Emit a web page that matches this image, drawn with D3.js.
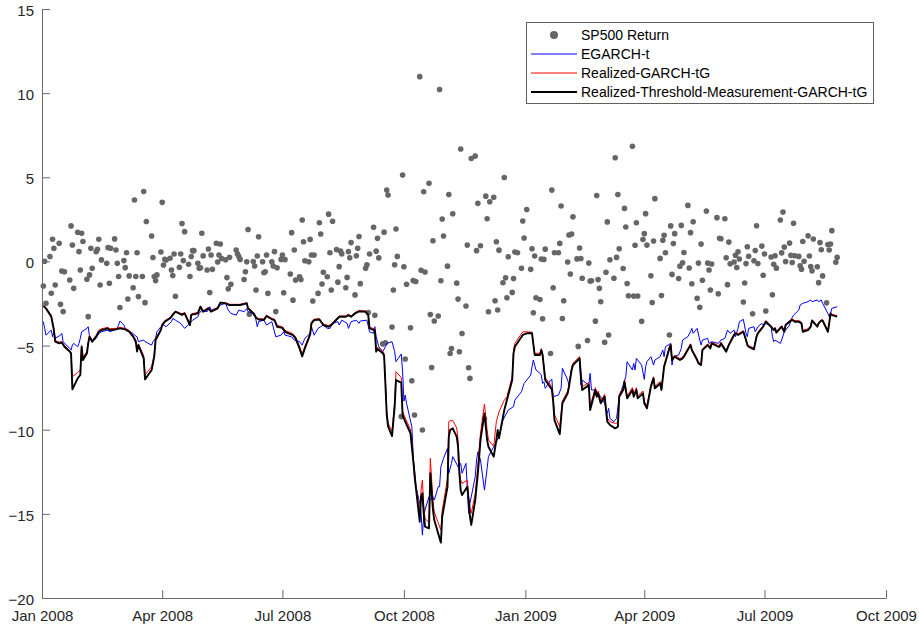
<!DOCTYPE html>
<html>
<head>
<meta charset="utf-8">
<script src="https://cdn.jsdelivr.net/npm/d3@7"></script>
<style>
  body { margin: 0; background: #fff; }
  svg { display: block; font-family: 'Liberation Sans', Arial, Helvetica, sans-serif; }
</style>
</head>
<body>
<svg id="chart" width="919" height="628"></svg>
<script>
'use strict'

// trading calendar (NYSE days between these dates, minus holidays)
const startDay = '2008-01-02'
const endDay = '2009-08-25'
const holidays = ['2008-01-21', '2008-02-18', '2008-03-21', '2008-05-26', '2008-07-04', '2008-09-01',
  '2008-11-27', '2008-12-25', '2009-01-01', '2009-01-19', '2009-02-16', '2009-04-10', '2009-05-25', '2009-07-03']

// daily SP500 log returns in %, one per trading day
const spReturns = [
  // 2008 Jan
  -1.46, 0.01, -2.49, 0.29, -1.89, 1.32, 0.78, -1.40, 1.08, -2.55, -0.57, -2.98, -0.61, -1.10, 2.11, 0.98, -1.60, 1.73, 0.58, -0.51, 1.67,
  // Feb
  1.18, -1.06, -3.28, -0.80, 0.78, -0.41, 0.58, 0.72, 1.32, -1.40, 0.09, -0.11, 0.82, -1.30, 0.78, 1.34, 0.68, -0.11, -0.90, -2.74,
  // Mar
  0.05, -0.37, 0.52, -2.23, -0.86, -1.56, 3.65, -0.90, 0.52, -2.09, -0.90, 4.15, -2.45, 2.37, 1.51, 0.23, -0.90, -1.14, -0.80, 0.56,
  // Apr
  3.51, -0.21, 0.13, 0.09, 0.19, -0.51, -0.84, 0.44, -2.07, -0.35, 0.44, 2.25, 0.05, 1.77, -0.17, -0.90, 0.29, 0.64, 0.64, -0.11, -0.41, -0.38,
  // May
  1.67, 0.33, -0.51, 0.74, -1.85, 0.38, -0.47, 1.08, -0.04, 0.38, 1.04, 0.17, 0.10, -0.96, -1.63, 0.25, -1.36, 0.68, 0.45, 0.29, 0.12,
  // Jun
  -1.07, -0.61, -0.02, 1.90, -3.14, 0.00, -0.27, -1.70, 0.32, 1.47, -0.02, -0.67, -0.61, 0.38, -1.90, -0.02, -0.27, 0.58, -2.98, -0.38, 0.12,
  // Jul
  0.38, -1.86, 0.11, -0.75, 1.71, -2.30, 0.68, -1.11, -0.91, -1.07, 2.46, 1.17, 0.04, -0.02, 1.31, 0.38, -2.35, 0.38, -1.90, 2.30, 1.63, -1.34,
  // Aug
  -0.64, -0.91, 2.81, 0.52, -1.70, 2.39, 0.70, -1.23, -0.31, 0.61, 0.45, -1.56, -0.95, 0.58, 0.22, 1.12, -1.99, 0.34, 0.78, 1.48, -1.32,
  // Sep
  -0.41, -0.20, -3.04, 0.44, 2.03, -3.20, 0.61, 1.37, 0.21, -4.90, 1.74, -4.83, 4.24, 3.95, -3.90, -1.70, -0.20, 1.93, 0.30, -9.22, 5.13,
  // Oct
  -0.32, -5.80, -1.36, -3.94, -7.09, -1.14, -9.13, -1.19, 10.98, -0.53, -10.02, 4.14, -0.63, 4.64, -3.15, -6.30, 1.23, -3.54, -3.25, 10.22, -1.15, 2.52, 1.51,
  // Nov
  -0.28, 3.98, -5.47, -5.17, 2.83, -1.29, -2.24, -5.37, 6.68, -4.28, -2.65, 0.97, -6.32, -6.95, 6.12, 6.26, 0.64, 3.45, 0.93,
  // Dec
  -9.35, 3.88, 2.54, -2.99, 3.55, 3.81, -2.34, 1.17, -2.89, 0.67, -1.27, 4.99, -0.97, -2.16, 0.28, -1.84, -1.01, 0.56, 0.52, -0.41, 2.40, 1.39,
  // 2009 Jan
  3.09, -0.47, 0.75, -3.05, 0.32, -2.16, -2.26, 0.14, -3.41, 0.12, 0.73, -5.47, 4.24, -1.56, 0.52, 0.52, 1.07, 3.29, -3.39, -2.34,
  // Feb
  -0.03, 1.57, -0.75, 1.63, 2.65, 0.15, -5.05, 0.80, 0.17, -1.00, -4.70, -0.10, -1.17, -1.15, -3.55, 3.92, -1.08, -1.60, -2.40,
  // Mar
  -4.80, -0.64, 2.35, -4.37, 0.10, -1.00, 6.16, 0.24, 3.98, 0.75, -0.42, 3.15, 2.05, -1.31, -2.04, 6.84, -2.06, 0.96, 2.30, -2.05, -3.56, 1.30,
  // Apr
  1.65, 2.84, 0.97, -0.85, -2.44, 1.21, 3.73, 0.18, -2.03, 1.26, 1.55, 0.52, -4.37, 2.11, -0.77, 1.06, 1.65, -1.02, -0.28, 2.14, -0.08,
  // May
  0.53, 3.33, -0.39, 1.71, -1.33, 2.36, -2.19, -0.10, -2.73, 1.03, -1.12, 2.99, -0.10, -0.51, -1.70, -0.15, 2.60, -1.92, 1.38, 1.35,
  // Jun
  2.54, 0.22, -1.38, 1.15, -0.14, -0.03, 0.37, -0.36, 0.57, 0.14, -2.41, -1.28, -0.13, 0.87, 0.31, -3.11, 0.04, 0.65, 2.12, -0.12, 0.91, -0.82,
  // Jul
  0.44, -2.95, 0.26, -1.98, -0.17, 0.34, -0.40, 2.46, 0.51, 2.93, 0.85, -0.01, 1.09, 0.36, -0.06, 2.27, 0.34, 0.30, -0.26, -0.46, 1.18, 0.01,
  // Aug
  1.52, 0.32, -0.30, -0.56, 1.33, -0.32, -1.26, 1.12, 0.69, -0.86, -2.46, 1.01, 0.68, 1.04, 1.83, -0.05, 0.24
]

// VaR forecasts: [trading day number, value]
const egarchT = [[0,-3.58],[1,-3.98],[2,-4.38],[4,-4.08],[5,-4.48],[6,-4.18],[7,-4.57],[9,-4.38],[10,-4.28],[11,-4.77],[13,-5.17],[14,-5.27],[15,-4.97],[16,-4.87],[17,-5.07],[18,-4.87],[19,-4.57],[20,-4.18],[22,-3.98],[23,-3.88],[24,-4.48],[26,-4.77],[27,-4.57],[29,-4.28],[31,-4.18],[33,-4.08],[34,-4.18],[36,-4.08],[38,-3.98],[40,-3.54],[41,-3.78],[42,-3.98],[44,-4.08],[46,-4.28],[47,-4.38],[49,-4.48],[50,-4.77],[52,-4.67],[53,-4.77],[55,-4.97],[56,-4.77],[58,-4.57],[59,-4.18],[60,-3.88],[62,-3.78],[64,-3.88],[66,-3.58],[67,-3.39],[69,-3.49],[71,-3.68],[73,-3.88],[74,-3.98],[76,-3.68],[78,-3.49],[80,-3.29],[81,-3.09],[83,-2.89],[85,-2.99],[87,-2.69],[88,-2.89],[90,-2.79],[92,-2.69],[93,-2.59],[95,-2.49],[97,-2.89],[99,-3.09],[100,-3.19],[102,-2.89],[104,-2.99],[106,-2.8],[107,-2.99],[110,-3.09],[112,-3.88],[113,-3.58],[115,-3.49],[117,-3.78],[119,-3.58],[120,-3.88],[122,-4.48],[124,-4.38],[126,-4.18],[127,-4.38],[129,-4.48],[131,-4.67],[133,-4.77],[135,-4.97],[137,-4.57],[139,-4.28],[140,-3.88],[142,-4.38],[143,-3.98],[145,-3.88],[147,-3.78],[148,-3.98],[150,-3.98],[152,-3.68],[154,-3.58],[155,-3.78],[157,-3.49],[159,-3.68],[160,-3.98],[162,-3.58],[164,-3.49],[166,-3.68],[167,-3.54],[169,-3.49],[171,-4.18],[172,-4.27],[173,-3.88],[174,-4.47],[176,-5.07],[177,-5.36],[179,-5.07],[180,-4.87],[182,-4.77],[184,-5.36],[185,-5.96],[187,-5.5],[188,-6.5],[189,-8.3],[190,-7.94],[191,-8.43],[193,-9.82],[194,-11.4],[195,-12.99],[197,-14.38],[198,-14.97],[199,-16.26],[200,-15.17],[201,-14.77],[202,-13.98],[203,-14.18],[205,-13.98],[206,-14.18],[207,-13.39],[208,-13.39],[209,-12.2],[211,-11.7],[212,-11.11],[213,-12.59],[215,-12.0],[216,-11.6],[218,-12.2],[220,-12.0],[221,-12.59],[222,-12.0],[224,-14.97],[225,-14.38],[227,-12.79],[228,-11.8],[229,-11.31],[230,-11.8],[231,-13.59],[233,-12.3],[234,-11.6],[236,-11.01],[238,-10.71],[240,-10.42],[241,-9.42],[243,-9.13],[245,-8.83],[247,-8.63],[248,-8.24],[250,-7.74],[252,-7.25],[254,-6.75],[255,-6.26],[256,-5.86],[258,-6.45],[259,-6.65],[260,-6.75],[261,-7.25],[262,-7.15],[263,-7.54],[264,-7.05],[265,-7.0],[266,-8.04],[268,-7.94],[270,-7.54],[271,-6.35],[273,-7.05],[274,-7.35],[276,-6.35],[277,-6.16],[279,-5.86],[280,-5.96],[281,-7.35],[282,-7.05],[284,-7.35],[285,-6.65],[286,-7.64],[287,-7.64],[289,-7.84],[291,-8.04],[292,-8.43],[294,-9.03],[295,-8.73],[296,-9.33],[297,-9.52],[299,-9.33],[301,-8.04],[302,-7.35],[304,-6.85],[305,-5.96],[307,-6.45],[308,-6.06],[309,-6.45],[310,-5.76],[312,-6.16],[314,-7.01],[315,-6.26],[316,-5.96],[317,-5.66],[319,-6.16],[320,-5.86],[321,-5.66],[323,-5.27],[324,-5.66],[325,-5.07],[327,-4.87],[328,-6.16],[329,-5.66],[331,-5.56],[333,-5.17],[334,-4.67],[336,-4.47],[338,-4.18],[339,-3.98],[340,-4.27],[341,-3.98],[343,-4.67],[344,-4.97],[345,-4.67],[347,-4.57],[348,-4.87],[350,-4.77],[352,-4.87],[354,-4.67],[355,-4.57],[357,-4.08],[359,-4.27],[360,-4.08],[361,-4.47],[363,-3.98],[364,-3.58],[365,-3.44],[367,-4.27],[368,-4.47],[369,-3.98],[371,-3.88],[372,-4.18],[374,-3.88],[375,-3.68],[376,-3.78],[378,-3.68],[379,-3.88],[380,-4.47],[381,-4.77],[382,-4.67],[384,-4.87],[385,-4.67],[387,-4.18],[389,-3.78],[390,-3.48],[392,-3.19],[394,-2.89],[395,-2.59],[397,-2.49],[399,-2.39],[401,-2.29],[402,-2.39],[404,-2.29],[405,-2.39],[407,-2.29],[408,-2.49],[410,-3.09],[411,-3.28],[412,-3.09],[413,-2.79],[415,-2.69]]

const realizedGarchTG = [[0,-2.6],[2,-2.75],[4,-3.2],[6,-4.0],[7,-4.7],[8,-4.8],[10,-4.75],[12,-5.0],[13,-5.3],[14,-5.4],[15,-6.85],[17,-6.6],[19,-6.45],[20,-5.0],[21,-5.7],[22,-5.35],[23,-4.8],[24,-4.4],[26,-4.7],[27,-4.4],[29,-4.1],[31,-4.0],[33,-3.92],[34,-4.0],[37,-3.98],[40,-3.92],[42,-3.98],[45,-4.1],[46,-4.4],[48,-4.65],[49,-5.2],[50,-4.9],[52,-5.6],[53,-6.75],[55,-6.25],[57,-5.5],[58,-4.6],[60,-4.0],[61,-3.72],[63,-3.52],[65,-3.32],[67,-3.12],[69,-2.95],[72,-3.12],[74,-3.03],[76,-3.7],[77,-3.12],[80,-3.03],[82,-2.65],[84,-2.93],[86,-2.74],[88,-2.93],[91,-2.74],[93,-2.42],[95,-2.45],[98,-2.55],[100,-2.55],[103,-2.55],[106,-2.45],[107,-2.74],[109,-3.03],[111,-3.3],[113,-3.4],[115,-3.42],[117,-3.2],[119,-3.38],[121,-3.43],[123,-3.8],[125,-3.88],[127,-4.1],[130,-4.3],[132,-4.48],[133,-5.05],[135,-5.5],[137,-5.05],[139,-4.28],[140,-3.62],[142,-3.43],[144,-3.4],[147,-3.72],[149,-3.82],[151,-3.72],[153,-3.4],[155,-3.24],[158,-3.24],[160,-3.14],[162,-3.24],[163,-3.04],[166,-2.92],[168,-2.94],[170,-3.15],[171,-3.9],[173,-4.02],[174,-5.25],[175,-5.1],[177,-5.35],[178,-5.45],[179,-7.1],[180,-8.9],[181,-9.6],[182,-10.1],[184,-8.4],[185,-6.55],[187,-6.9],[188,-8.9],[190,-9.3],[192,-10.0],[194,-11.6],[196,-13.2],[197,-14.97],[198,-13.6],[199,-12.99],[200,-14.5],[201,-15.3],[202,-15.5],[203,-11.7],[205,-14.2],[206,-14.9],[209,-15.96],[210,-14.8],[212,-12.9],[213,-9.52],[214,-9.46],[216,-9.46],[217,-9.9],[218,-10.6],[219,-12.4],[220,-13.0],[221,-13.19],[223,-13.0],[224,-13.98],[225,-14.6],[226,-14.97],[227,-13.8],[229,-12.1],[230,-10.2],[231,-8.47],[233,-10.02],[234,-10.61],[236,-11.0],[238,-9.52],[239,-9.23],[240,-8.93],[242,-8.24],[244,-8.04],[246,-6.85],[247,-5.27],[248,-4.87],[251,-4.18],[253,-4.18],[255,-4.21],[257,-5.46],[259,-5.46],[260,-5.18],[261,-5.46],[263,-6.9],[265,-7.45],[266,-8.1],[267,-9.1],[269,-9.82],[271,-8.3],[273,-7.7],[274,-7.3],[276,-6.3],[277,-6.05],[280,-5.66],[281,-6.6],[282,-7.45],[284,-7.2],[285,-8.6],[287,-7.5],[288,-7.9],[289,-7.7],[291,-8.3],[292,-7.9],[293,-8.65],[294,-9.3],[296,-9.52],[298,-9.62],[300,-9.6],[301,-7.9],[302,-7.5],[303,-7.02],[305,-8.0],[307,-7.5],[308,-7.9],[310,-7.5],[311,-8.0],[313,-7.7],[314,-8.3],[316,-8.6],[317,-7.32],[319,-6.85],[320,-7.42],[321,-7.14],[322,-7.52],[324,-6.15],[326,-5.08],[327,-4.9],[328,-5.78],[330,-5.58],[332,-5.78],[334,-5.68],[335,-5.58],[338,-4.9],[339,-5.2],[341,-5.78],[342,-5.98],[344,-6.08],[345,-5.2],[347,-4.9],[348,-5.0],[349,-5.1],[350,-4.8],[352,-5.0],[353,-5.0],[354,-4.8],[356,-5.28],[358,-4.9],[360,-4.3],[361,-4.2],[363,-4.3],[365,-4.12],[367,-4.6],[368,-4.9],[369,-5.0],[371,-5.15],[373,-4.4],[374,-4.2],[376,-3.82],[378,-3.52],[379,-3.82],[381,-4.02],[382,-3.92],[383,-4.17],[385,-3.82],[387,-4.12],[388,-3.72],[389,-3.52],[391,-3.42],[393,-3.52],[394,-3.52],[396,-3.62],[397,-4.1],[399,-4.0],[401,-3.82],[402,-3.46],[404,-3.82],[405,-3.62],[407,-3.46],[408,-3.46],[410,-4.1],[411,-3.62],[412,-3.04],[413,-3.14],[415,-3.22]]

const rtmGarchTG = [[0,-2.65],[2,-2.79],[4,-3.28],[6,-4.08],[7,-4.77],[8,-4.87],[10,-4.82],[12,-5.07],[13,-5.36],[14,-5.46],[15,-7.6],[17,-6.95],[19,-6.75],[20,-5.07],[21,-5.86],[22,-5.46],[23,-4.87],[24,-4.47],[26,-4.77],[27,-4.47],[29,-4.18],[31,-4.08],[33,-3.98],[34,-4.08],[37,-4.04],[40,-3.98],[42,-4.04],[45,-4.18],[46,-4.47],[48,-4.77],[49,-5.36],[50,-4.97],[52,-5.76],[53,-7.01],[55,-6.45],[57,-5.66],[58,-4.67],[60,-4.08],[61,-3.78],[63,-3.58],[65,-3.38],[67,-3.18],[69,-2.99],[72,-3.18],[74,-3.09],[76,-3.78],[77,-3.18],[80,-3.09],[82,-2.69],[84,-2.99],[86,-2.79],[88,-2.99],[91,-2.79],[93,-2.45],[95,-2.49],[98,-2.59],[100,-2.59],[103,-2.59],[106,-2.49],[107,-2.79],[109,-3.09],[111,-3.35],[113,-3.45],[115,-3.48],[117,-3.24],[119,-3.44],[121,-3.49],[123,-3.88],[125,-3.95],[127,-4.18],[130,-4.38],[132,-4.57],[133,-5.17],[135,-5.64],[137,-5.17],[139,-4.35],[140,-3.68],[142,-3.49],[144,-3.45],[147,-3.78],[149,-3.88],[151,-3.78],[153,-3.45],[155,-3.29],[158,-3.29],[160,-3.19],[162,-3.29],[163,-3.09],[166,-2.97],[168,-2.99],[170,-3.2],[171,-3.98],[173,-4.1],[174,-5.36],[175,-5.2],[177,-5.46],[178,-5.6],[179,-7.3],[180,-9.1],[181,-9.8],[182,-10.38],[184,-8.63],[185,-7.05],[187,-7.2],[188,-9.13],[190,-9.52],[192,-10.22],[194,-11.8],[196,-13.39],[197,-15.47],[198,-13.98],[199,-13.78],[200,-14.97],[201,-15.76],[202,-15.86],[203,-12.59],[205,-14.77],[206,-15.37],[209,-16.71],[210,-15.17],[212,-13.39],[213,-10.42],[214,-10.02],[216,-9.92],[217,-10.42],[218,-11.01],[219,-12.59],[220,-13.59],[221,-13.88],[223,-13.39],[224,-14.18],[225,-15.17],[226,-15.66],[227,-14.18],[229,-12.59],[230,-10.61],[231,-9.03],[233,-10.61],[234,-11.01],[236,-11.6],[238,-10.61],[239,-10.02],[240,-10.51],[242,-8.83],[244,-8.24],[246,-7.05],[247,-5.46],[248,-5.07],[251,-4.37],[253,-4.27],[255,-4.27],[257,-5.56],[259,-5.56],[260,-5.27],[261,-5.56],[263,-7.05],[265,-7.6],[266,-8.3],[267,-9.43],[269,-10.26],[271,-8.43],[273,-7.84],[274,-7.44],[276,-6.45],[277,-6.16],[280,-5.76],[281,-6.8],[282,-7.64],[284,-7.35],[285,-8.83],[287,-7.64],[288,-8.04],[289,-7.84],[291,-8.43],[292,-8.04],[293,-8.83],[294,-9.52],[296,-9.72],[298,-9.92],[300,-9.82],[301,-8.04],[302,-7.64],[303,-7.15],[305,-8.14],[307,-7.64],[308,-8.04],[310,-7.64],[311,-8.14],[313,-7.84],[314,-8.43],[316,-8.73],[317,-7.44],[319,-6.95],[320,-7.54],[321,-7.25],[322,-7.64],[324,-6.26],[326,-5.17],[327,-4.97],[328,-5.86],[330,-5.66],[332,-5.86],[334,-5.76],[335,-5.66],[338,-4.97],[339,-5.27],[341,-5.86],[342,-6.06],[344,-6.16],[345,-5.27],[347,-4.97],[348,-5.07],[349,-5.17],[350,-4.87],[352,-5.07],[353,-5.07],[354,-4.87],[356,-5.36],[358,-4.97],[360,-4.37],[361,-4.27],[363,-4.37],[365,-4.18],[367,-4.67],[368,-4.97],[369,-5.07],[371,-5.22],[373,-4.47],[374,-4.27],[376,-3.88],[378,-3.58],[379,-3.88],[381,-4.08],[382,-3.98],[383,-4.23],[385,-3.88],[387,-4.18],[388,-3.78],[389,-3.58],[391,-3.48],[393,-3.58],[394,-3.58],[396,-3.68],[397,-4.18],[399,-4.08],[401,-3.88],[402,-3.52],[404,-3.88],[405,-3.68],[407,-3.52],[408,-3.52],[410,-4.18],[411,-3.68],[412,-3.09],[413,-3.19],[415,-3.28]]

const xTicks = ['2008-01-01', '2008-04-01', '2008-07-01', '2008-10-01', '2009-01-01', '2009-04-01', '2009-07-01', '2009-10-01']
const yTicks = [-20, -15, -10, -5, 0, 5, 10, 15]
const seriesNames = ['SP500 Return', 'EGARCH-t', 'Realized-GARCH-tG', 'Realized-Threshold-Measurement-GARCH-tG']
const seriesColors = ['#666666', '#0000ff', '#ff0000', '#000000']

const parseDay = d3.utcParse('%Y-%m-%d')
const fmtDay = d3.utcFormat('%Y-%m-%d')
const holidaySet = new Set(holidays)
const tradingDays = d3.utcDays(parseDay(startDay), d3.utcDay.offset(parseDay(endDay), 1))
  .filter(function (d) { return d.getUTCDay() % 6 !== 0 && !holidaySet.has(fmtDay(d)) })

const margin = {top: 9, right: 33, bottom: 30, left: 42}
const width = 919 - margin.left - margin.right
const height = 628 - margin.top - margin.bottom
const axisGray = '#6b6b6b'
const textGray = '#262626'

const svg = d3.select('#chart')
const g = svg.append('g')
  .attr('transform', 'translate(' + margin.left + ',' + margin.top + ')')

const x = d3.scaleUtc()
  .domain([parseDay(xTicks[0]), parseDay(xTicks[xTicks.length - 1])])
  .range([0, width])
const y = d3.scaleLinear()
  .domain([-20, 15])
  .range([height, 0])

// returns as dots
g.append('g')
  .attr('class', 'dots')
  .selectAll('circle')
  .data(spReturns)
  .enter()
  .append('circle')
  .attr('cx', function (d, i) { return x(tradingDays[i]) })
  .attr('cy', function (d) { return y(d) })
  .attr('r', 2.8)
  .attr('fill', seriesColors[0])

const line = d3.line()
  .x(function (d) { return x(tradingDays[d[0]]) })
  .y(function (d) { return y(d[1]) })

const lineSeries = [
  {data: egarchT, color: seriesColors[1], w: 1},
  {data: realizedGarchTG, color: seriesColors[2], w: 1},
  {data: rtmGarchTG, color: seriesColors[3], w: 1.9}
]
lineSeries.forEach(function (s) {
  g.append('path')
    .datum(s.data)
    .attr('fill', 'none')
    .attr('stroke', s.color)
    .attr('stroke-width', s.w)
    .attr('stroke-linejoin', 'round')
    .attr('d', line)
})

// axes, ticks pointing inward like the original
const xAxis = d3.axisBottom(x)
  .tickValues(xTicks.map(parseDay))
  .tickFormat(d3.utcFormat('%b %Y'))
  .tickSizeInner(-8)
  .tickSizeOuter(0)
  .tickPadding(12)
const yAxis = d3.axisLeft(y)
  .tickValues(yTicks)
  .tickSizeInner(-8)
  .tickSizeOuter(0)
  .tickPadding(8)

const gx = g.append('g')
  .attr('class', 'x axis')
  .attr('transform', 'translate(0,' + height + ')')
  .call(xAxis)
const gy = g.append('g')
  .attr('class', 'y axis')
  .call(yAxis)

;[gx, gy].forEach(function (ax) {
  ax.select('.domain').attr('stroke', axisGray)
  ax.selectAll('.tick line').attr('stroke', axisGray)
  ax.selectAll('text')
    .attr('fill', textGray)
    .style('font-size', '15px')
    .style('font-family', "'Liberation Sans', Arial, Helvetica, sans-serif")
})
gy.selectAll('text').attr('dy', '0.43em')

// legend
const legend = svg.append('g')
  .attr('transform', 'translate(526,22)')
legend.append('rect')
  .attr('x', 0.5)
  .attr('y', 0.5)
  .attr('width', 347)
  .attr('height', 81)
  .attr('fill', '#fff')
  .attr('stroke', '#5f5f5f')
  .attr('stroke-width', 1)

const rows = legend.selectAll('.row')
  .data(seriesNames)
  .enter()
  .append('g')
  .attr('class', 'row')
  .attr('transform', function (d, i) { return 'translate(0,' + (13 + i * 19) + ')' })
rows.each(function (d, i) {
  const r = d3.select(this)
  if (i === 0) {
    r.append('circle')
      .attr('cx', 28)
      .attr('cy', 0)
      .attr('r', 4)
      .attr('fill', seriesColors[0])
  } else {
    r.append('line')
      .attr('x1', 5)
      .attr('x2', 51)
      .attr('y1', 0)
      .attr('y2', 0)
      .attr('stroke', seriesColors[i])
      .attr('stroke-width', i === 3 ? 1.9 : 1)
  }
  r.append('text')
    .attr('x', 55)
    .attr('y', 0)
    .attr('dy', '0.36em')
    .attr('fill', '#000')
    .style('font-size', '14px')
    .text(d)
})
</script>
</body>
</html>
